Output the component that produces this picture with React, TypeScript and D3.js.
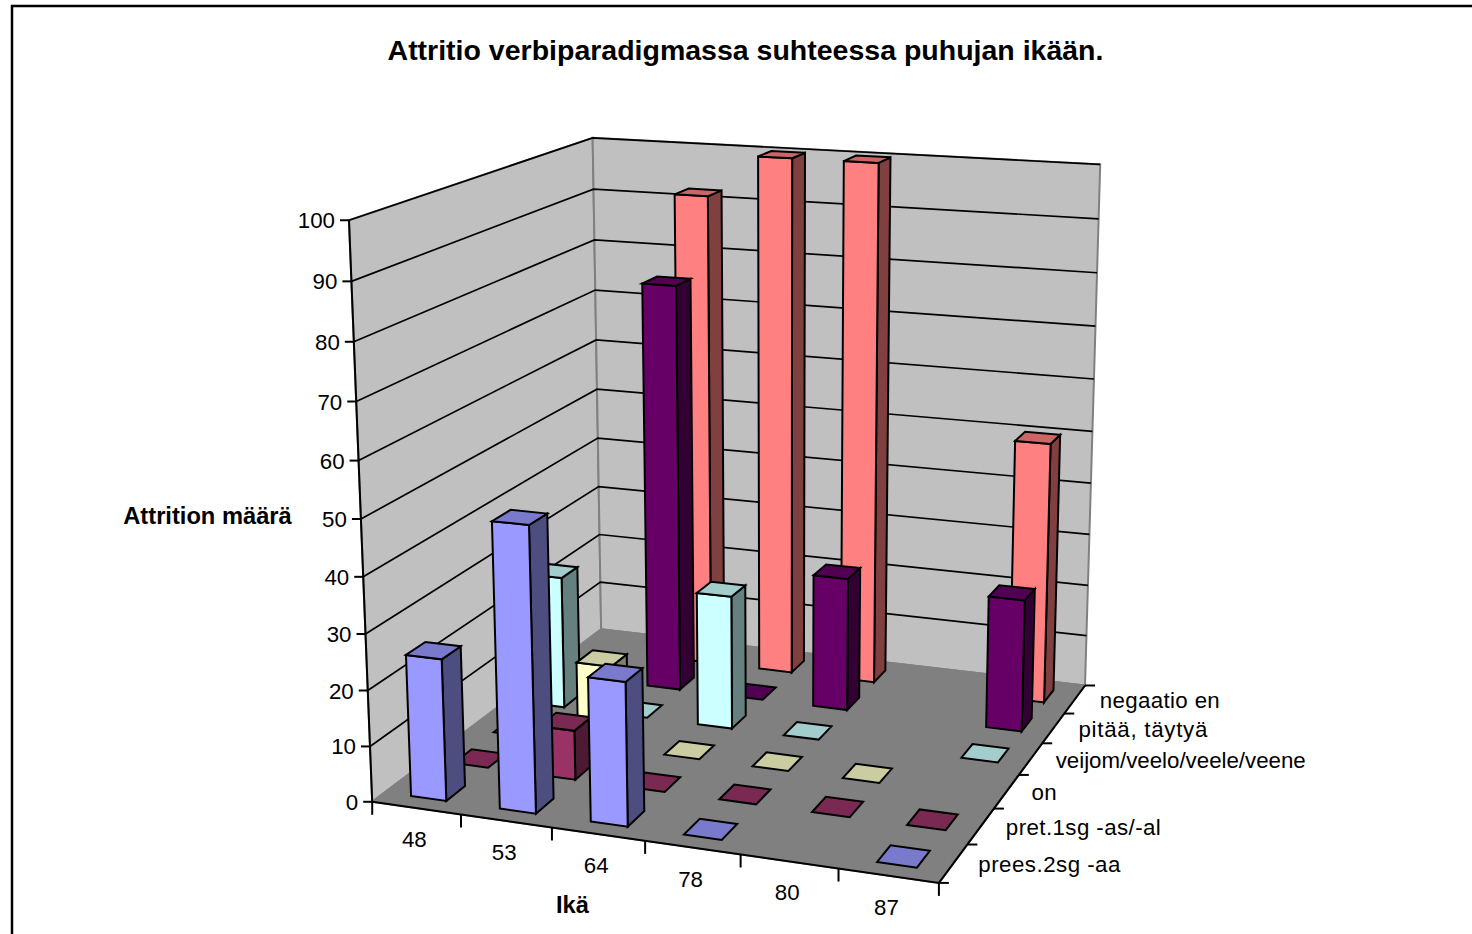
import React from "react";
import * as d3 from "d3";

const categories = ["48", "53", "64", "78", "80", "87"];
const seriesNames = [
  "prees.2sg -aa",
  "pret.1sg -as/-al",
  "on",
  "veijom/veelo/veele/veene",
  "pitää, täytyä",
  "negaatio en",
];
// Set widths of the series labels, so the row of names keeps its proportions
const seriesLabelWidths = [142, 155, 25, 250, 129, 120];
type Cell = number | null;
const prees: Cell[] = [25.4, 50.5, 25.4, 0, null, 0];
const pret: Cell[] = [0, 9, 0, 0, 0, 0];
const on: Cell[] = [0, 15.3, 0, 0, 0, null];
const veijom: Cell[] = [25.2, 0, 25.2, 0, null, 0];
const pitaa: Cell[] = [null, 78, 0, 25.5, null, 25];
const negaatio: Cell[] = [null, 92, 100, 100, null, 50];
const seriesValues = [prees, pret, on, veijom, pitaa, negaatio];
const seriesColors = ["#9999FF", "#993366", "#FFFFCC", "#CCFFFF", "#660066", "#FF8080"];
const valueTicks = d3.range(0, 101, 10);

// Camera anchors: box coordinates (x along categories, y along series, z up) to screen
const anchors: [number, number, number, number, number][] = [
  [0, 0, 0, 372, 802],
  [1, 0, 0, 938, 884],
  [1, 1, 0, 1085, 684],
  [0, 1, 0, 602, 630],
  [0, 0, 1, 350, 220],
  [0, 1, 1, 591, 138],
  [1, 1, 1, 1101, 165],
  [0, 0, 0.5, 361, 518],
];

// Least-squares fit of a 3x4 projection matrix with its last entry fixed to 1
function fitCamera(pts: typeof anchors): number[] {
  const rows: number[][] = [];
  const rhs: number[] = [];
  for (const [x, y, z, u, v] of pts) {
    rows.push([x, y, z, 1, 0, 0, 0, 0, -u * x, -u * y, -u * z]);
    rhs.push(u);
    rows.push([0, 0, 0, 0, x, y, z, 1, -v * x, -v * y, -v * z]);
    rhs.push(v);
  }
  const n = 11;
  const m: number[][] = d3.range(n).map((i) =>
    d3.range(n + 1).map((j) =>
      j < n ? d3.sum(rows, (r) => r[i] * r[j]) : d3.sum(rows, (r, k) => r[i] * rhs[k])
    )
  );
  for (let c = 0; c < n; c++) {
    let p = c;
    for (let r = c + 1; r < n; r++) if (Math.abs(m[r][c]) > Math.abs(m[p][c])) p = r;
    [m[c], m[p]] = [m[p], m[c]];
    for (let r = 0; r < n; r++) {
      if (r === c) continue;
      const f = m[r][c] / m[c][c];
      for (let k = c; k <= n; k++) m[r][k] -= f * m[c][k];
    }
  }
  return m.map((r, i) => r[n] / r[i]);
}

const cam = fitCamera(anchors);
type Pt = [number, number];
const project = (x: number, y: number, z: number): Pt => {
  const w = cam[8] * x + cam[9] * y + cam[10] * z + 1;
  return [
    (cam[0] * x + cam[1] * y + cam[2] * z + cam[3]) / w,
    (cam[4] * x + cam[5] * y + cam[6] * z + cam[7]) / w,
  ];
};

const xBand = d3.scaleBand<string>().domain(categories).range([0, 1]).paddingInner(0.6).paddingOuter(0.3);
const yBand = d3.scaleBand<string>().domain(seriesNames).range([0, 1]).paddingInner(0.56).paddingOuter(0.28);
const zScale = d3.scaleLinear().domain([0, 100]).range([0, 1]);

const poly = d3.line<Pt>().curve(d3.curveLinearClosed);
const seg = d3.line<Pt>();

const shade = (hex: string, k: number) => {
  const c = d3.rgb(hex);
  return d3.rgb(c.r * k, c.g * k, c.b * k).formatHex();
};

const font = "'Liberation Sans', Arial, sans-serif";
const ink = "#000";

export default function App() {
  const bars: React.ReactNode[] = [];
  for (let j = seriesNames.length - 1; j >= 0; j--) {
    categories.forEach((cat, i) => {
      const value = seriesValues[j][i];
      if (value === null) return;
      const x0 = xBand(cat)!;
      const x1 = x0 + xBand.bandwidth();
      const y0 = yBand(seriesNames[j])!;
      const y1 = y0 + yBand.bandwidth();
      const z = zScale(value);
      const color = seriesColors[j];
      const common = { stroke: ink, strokeWidth: 2, strokeLinejoin: "miter" as const };
      bars.push(
        <g key={`${j}-${i}`}>
          {value > 0 && (
            <path
              d={poly([project(x1, y0, 0), project(x1, y1, 0), project(x1, y1, z), project(x1, y0, z)])!}
              fill={shade(color, 0.5)}
              {...common}
            />
          )}
          {value > 0 && (
            <path
              d={poly([project(x0, y0, 0), project(x1, y0, 0), project(x1, y0, z), project(x0, y0, z)])!}
              fill={color}
              {...common}
            />
          )}
          <path
            d={poly([project(x0, y0, z), project(x1, y0, z), project(x1, y1, z), project(x0, y1, z)])!}
            fill={shade(color, 0.8)}
            {...common}
          />
        </g>
      );
    });
  }

  return (
    <svg
      width={1472}
      height={934}
      viewBox="0 0 1472 934"
      style={{ position: "absolute", left: 0, top: 0, display: "block", background: "#fff" }}
      fontFamily={font}
    >
      <rect x={12} y={6} width={1600} height={1200} fill="#fff" stroke={ink} strokeWidth={2.5} />

      <text x={745.5} y={60} textAnchor="middle" fontSize={28.5} fontWeight={700}>
        Attritio verbiparadigmassa suhteessa puhujan ikään.
      </text>

      {/* Side wall, back wall, floor */}
      <path
        d={poly([project(0, 0, 0), project(0, 1, 0), project(0, 1, 1), project(0, 0, 1)])!}
        fill="#C0C0C0"
        stroke="#808080"
        strokeWidth={2}
      />
      <path
        d={poly([project(0, 1, 0), project(1, 1, 0), project(1, 1, 1), project(0, 1, 1)])!}
        fill="#C0C0C0"
        stroke="#808080"
        strokeWidth={2}
      />
      <path
        d={poly([project(0, 0, 0), project(1, 0, 0), project(1, 1, 0), project(0, 1, 0)])!}
        fill="#808080"
        stroke="#808080"
        strokeWidth={2}
      />

      {/* Gridlines wrap from the value axis across both walls */}
      {valueTicks.slice(1).map((t) => {
        const z = zScale(t);
        return (
          <path
            key={t}
            d={seg([project(0, 0, z), project(0, 1, z), project(1, 1, z)])!}
            fill="none"
            stroke={ink}
            strokeWidth={1.7}
          />
        );
      })}

      {/* Axis lines */}
      <g fill="none" stroke={ink} strokeWidth={2}>
        <path d={seg([project(0, 0, 0), project(0, 0, 1)])!} />
        <path d={seg([project(0, 0, 0), project(1, 0, 0), project(1, 1, 0)])!} />
        {valueTicks.map((t) => {
          const [px, py] = project(0, 0, zScale(t));
          return <path key={t} d={seg([[px - 9, py], [px, py]])!} />;
        })}
        {d3.range(0, 7).map((i) => {
          const [px, py] = project(i / 6, 0, 0);
          return <path key={i} d={seg([[px, py], [px, py + 13]])!} />;
        })}
        {d3.range(0, 7).map((j) => {
          const [px, py] = project(1, j / 6, 0);
          return <path key={j} d={seg([[px, py], [px + 10, py]])!} />;
        })}
      </g>

      <g fontSize={22.3} fill={ink}>
        {valueTicks.map((t) => {
          const [px, py] = project(0, 0, zScale(t));
          return (
            <text key={t} x={px - 14} y={py + 8} textAnchor="end">
              {t}
            </text>
          );
        })}
        {categories.map((c, i) => {
          const [px, py] = project((i + 0.5) / 6, 0, 0);
          return (
            <text key={c} x={px - 2} y={py + 39} textAnchor="middle">
              {c}
            </text>
          );
        })}
        {seriesNames.map((s, j) => {
          const [px, py] = project(1, (j + 0.5) / 6, 0);
          return (
            <text key={s} x={px + 25} y={py + 9} textLength={seriesLabelWidths[j]} lengthAdjust="spacing">
              {s}
            </text>
          );
        })}
      </g>

      <g fontSize={23.7} fontWeight={700} fill={ink}>
        <text x={207.5} y={524} textAnchor="middle">
          Attrition määrä
        </text>
        <text x={572.5} y={913} textAnchor="middle">
          Ikä
        </text>
      </g>

      {bars}
    </svg>
  );
}
